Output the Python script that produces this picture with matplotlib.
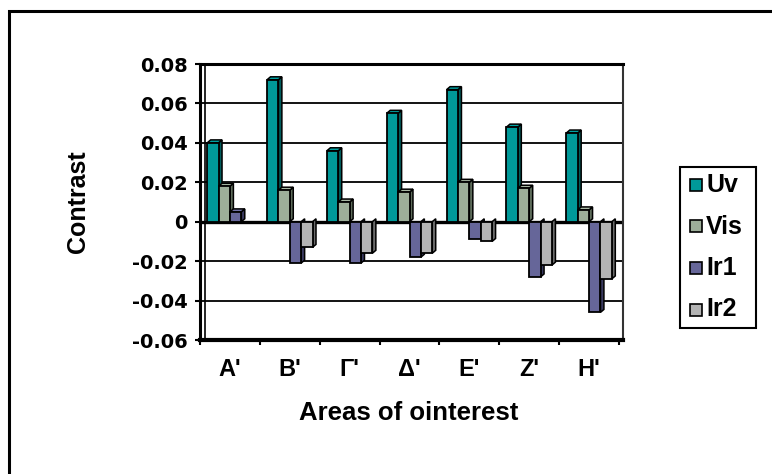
import matplotlib
matplotlib.use("Agg")
import matplotlib.pyplot as plt
from matplotlib.patches import Polygon, Rectangle
import numpy as np

plt.rcParams['font.family'] = ['Liberation Sans', 'DejaVu Sans']
plt.rcParams['font.weight'] = 'bold'

categories = ["A'", "B'", "Γ'", "Δ'", "E'", "Z'", "H'"]
series_names = ["Uv", "Vis", "Ir1", "Ir2"]
uv = [0.040, 0.072, 0.036, 0.055, 0.067, 0.048, 0.045]
vis = [0.018, 0.016, 0.010, 0.015, 0.020, 0.017, 0.006]
ir1 = [0.005, -0.021, -0.021, -0.018, -0.009, -0.028, -0.046]
ir2 = [0.000, -0.013, -0.016, -0.016, -0.010, -0.022, -0.029]
yticks = [-0.06, -0.04, -0.02, 0, 0.02, 0.04, 0.06, 0.08]
ytick_labels = ["-0.06", "-0.04", "-0.02", "0", "0.02", "0.04", "0.06", "0.08"]

face_colors = ["#009999", "#9dae99", "#666699", "#b4b4b4"]
side_colors = ["#005c5c", "#5e6c5b", "#3a3a60", "#6c6c6c"]
top_colors = ["#00a3a3", "#a8b8a4", "#7272a6", "#c4c4c4"]

W, H = 772, 474
PX = 72 / 100  # points per pixel
fig = plt.figure(figsize=(W / 100, H / 100), dpi=100)


def fx(px):
    return px / W


def fy(py):
    return 1 - py / H


# outer chart frame
fig.patches.append(Rectangle((fx(9), -0.05), 1.2, fy(11) + 0.05,
                             transform=fig.transFigure, fill=False,
                             edgecolor='black', linewidth=2.2, zorder=0))

ax_l, ax_r, ax_t, ax_b = 200, 623, 64, 340
ax = fig.add_axes([fx(ax_l), fy(ax_b), (ax_r - ax_l) / W, (ax_b - ax_t) / H])

n = len(categories)
x_right = n - 0.5 + (ax_r - 619) / 60.0
ax.set_xlim(-0.5, x_right)
ax.set_ylim(-0.06, 0.08)

# back wall gridlines
for y in yticks[1:-1]:
    if y == 0:
        continue
    ax.axhline(y, color='black', linewidth=1.3, zorder=1)
ax.axhline(0, color='black', linewidth=2.4, zorder=2)
ax.axvline(-0.5 + 5 / 60.0, color='black', linewidth=1.2, zorder=1)

series = [uv, vis, ir1, ir2]
w = 0.19
dx = 0.058
dy = 0.0015
for i in range(n):
    for k, vals in enumerate(series):
        v = vals[i]
        x0 = i - 2 * w + k * w
        z = 3 + k * 0.01
        if v == 0:
            continue
        if v > 0:
            side = [(x0 + w, 0), (x0 + w, v), (x0 + w + dx, v + dy), (x0 + w + dx, dy)]
        else:
            side = [(x0 + w, v), (x0 + w, 0), (x0 + w + dx, dy), (x0 + w + dx, v + dy)]
        ax.add_patch(Polygon(side, closed=True, facecolor=side_colors[k],
                             edgecolor='black', linewidth=1.1, zorder=z))
        if v > 0:
            top = [(x0, v), (x0 + dx, v + dy), (x0 + w + dx, v + dy), (x0 + w, v)]
            ax.add_patch(Polygon(top, closed=True, facecolor=top_colors[k],
                                 edgecolor='black', linewidth=1.1, zorder=z))
        ax.add_patch(Rectangle((x0, min(0, v)), w, abs(v), facecolor=face_colors[k],
                               edgecolor='black', linewidth=1.3, zorder=z + 0.001))

# axes frame
for s in ['left', 'top']:
    ax.spines[s].set_linewidth(2.2)
ax.spines['right'].set_linewidth(1.5)
ax.spines['right'].set_color('#333333')
ax.spines['bottom'].set_linewidth(3.0)

ax.set_yticks(yticks)
ax.set_yticklabels(ytick_labels, fontsize=14, fontweight='bold',
                   family=['DejaVu Sans'])
ax.tick_params(axis='y', direction='out', length=5 * PX, width=1.5, pad=7 * PX)

ax.set_xticks(np.arange(-0.5, n, 1.0))
ax.set_xticklabels([])
ax.set_xticks(np.arange(n), minor=True)
ax.set_xticklabels(categories, minor=True, fontsize=17, fontweight='bold')
ax.tick_params(axis='x', which='major', direction='out', length=5 * PX, width=1.5)
ax.tick_params(axis='x', which='minor', length=0, pad=18 * PX)

fig.text(fx(85), fy(201.5), "Contrast", rotation=90, rotation_mode='anchor',
         ha='center', va='baseline', fontsize=18, fontweight='bold')
fig.text(fx(409), fy(420), "Areas of ointerest", ha='center', va='baseline',
         fontsize=18.5, fontweight='bold')

# legend box
leg_l, leg_r, leg_t, leg_b = 680, 756, 167, 328
fig.patches.append(Rectangle((fx(leg_l), fy(leg_b)), (leg_r - leg_l) / W,
                             (leg_b - leg_t) / H, transform=fig.transFigure,
                             facecolor='white', edgecolor='black', linewidth=1.5,
                             zorder=5))
row_y = [185, 226.5, 268, 309.5]
for k, name in enumerate(series_names):
    fig.patches.append(Rectangle((fx(690), fy(row_y[k] + 6)), 12 / W, 12 / H,
                                 transform=fig.transFigure,
                                 facecolor=face_colors[k], edgecolor='black',
                                 linewidth=1.2, zorder=6))
    fig.text(fx(706), fy(row_y[k]), name, ha='left', va='center',
             fontsize=18, fontweight='bold', zorder=6)

fig.savefig("out.png", dpi=100)
